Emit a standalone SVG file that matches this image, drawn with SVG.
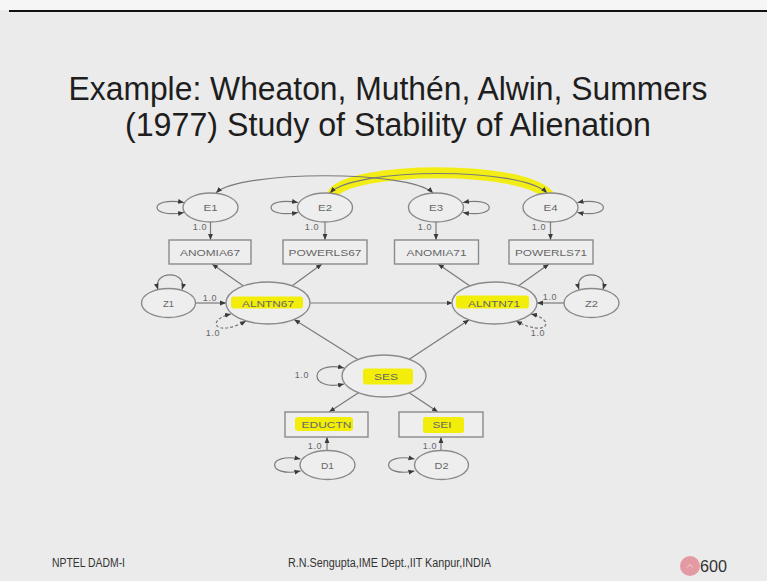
<svg xmlns="http://www.w3.org/2000/svg" width="767" height="581" viewBox="0 0 767 581">
<style>
.bg{fill:#ebebeb}
.nd{fill:#eeeeee;stroke:#8a8a8a;stroke-width:1.4}
.lbl{font-family:"Liberation Sans",Arial,sans-serif;font-size:9.5px;fill:#666;text-anchor:middle}
.num{font-family:"Liberation Sans",Arial,sans-serif;font-size:9px;fill:#666;text-anchor:middle;letter-spacing:0.6px}
.ln{fill:none;stroke:#7a7a7a;stroke-width:1.2}
.arr{marker-end:url(#ah)}
.both{marker-start:url(#ah);marker-end:url(#ah)}
.dash{stroke-dasharray:3 2}
.hl{fill:#f2ee0a}
.title{font-family:"Liberation Sans",Arial,sans-serif;font-size:33px;fill:#1e1e1e;text-anchor:middle}
.foot{font-family:"Liberation Sans",Arial,sans-serif;fill:#333}
</style>
<defs>
<marker id="ah" viewBox="0 0 10 10" refX="10" refY="5" markerWidth="6" markerHeight="6" markerUnits="userSpaceOnUse" orient="auto-start-reverse">
<path d="M0,1 L10,5 L0,9 z" fill="#3a3a3a"/>
</marker>
</defs>
<rect x="0" y="0" width="767" height="581" class="bg"/>
<rect x="0" y="0" width="767" height="10" fill="#f6f6f6"/>
<line x1="9" y1="11" x2="767" y2="11" stroke="#111" stroke-width="2"/>

<g id="title">
<text class="title" x="388" y="100" textLength="639" lengthAdjust="spacingAndGlyphs">Example: Wheaton, Muthén, Alwin, Summers</text>
<text class="title" x="388" y="136" textLength="526" lengthAdjust="spacingAndGlyphs">(1977) Study of Stability of Alienation</text>
</g>

<g id="connectors">
<path d="M332 195 C346 166 528 164 550 197" fill="none" stroke="#f2ee0a" stroke-width="11" stroke-opacity="0.95"/>
<path class="ln both" d="M216 193 C240 170 410 170 433 193"/>
<path class="ln both" d="M330 193 C355 167 522 167 547 193"/>
<path class="ln both" d="M184 202.5 C148 196 148 219 184 212.5"/>
<path class="ln both" d="M298 202.5 C262 196 262 219 298 212.5"/>
<path class="ln both" d="M463 202.5 C498 196 498 219 463 212.5"/>
<path class="ln both" d="M577.5 202.5 C612 196 612 219 577.5 212.5"/>
<line class="ln arr" x1="210.5" y1="222" x2="210.5" y2="240"/>
<line class="ln arr" x1="325" y1="222" x2="325" y2="240"/>
<line class="ln arr" x1="436" y1="222" x2="436" y2="240"/>
<line class="ln arr" x1="550.5" y1="222" x2="550.5" y2="240"/>
<line class="ln arr" x1="243.5" y1="286" x2="212" y2="264"/>
<line class="ln arr" x1="292.2" y1="285.8" x2="322" y2="264"/>
<line class="ln arr" x1="469.9" y1="286" x2="438" y2="264"/>
<line class="ln arr" x1="518.6" y1="285.8" x2="549" y2="264"/>
<line class="ln arr" x1="310" y1="303" x2="452.5" y2="303"/>
<line class="ln arr" x1="195.5" y1="303" x2="226" y2="303"/>
<line class="ln arr" x1="564" y1="303" x2="537" y2="303"/>
<path class="ln both" d="M158 289.5 C152 270 188 270 182 289.5"/>
<path class="ln both" d="M579 289.5 C573 270 609 270 603 289.5"/>
<path class="ln both dash" d="M231 314 C205 320 215 338 246 321"/>
<path class="ln both dash" d="M516 321 C547 338 557 320 531 314"/>
<line class="ln arr" x1="357.9" y1="359.6" x2="294.1" y2="319.4"/>
<line class="ln arr" x1="409.3" y1="359.3" x2="469.2" y2="319.7"/>
<path class="ln both" d="M344 368 C308 360 308 392 344 384"/>
<line class="ln arr" x1="358.5" y1="392.7" x2="329" y2="412"/>
<line class="ln arr" x1="409.2" y1="392.8" x2="438" y2="412"/>
<line class="ln arr" x1="327" y1="450.5" x2="327" y2="437"/>
<line class="ln arr" x1="441" y1="450.5" x2="441" y2="437"/>
<path class="ln both" d="M300.5 459 C266 452 266 478 300.5 471"/>
<path class="ln both" d="M414.5 459 C380 452 380 478 414.5 471"/>
<text class="num" x="200" y="230">1.0</text>
<text class="num" x="312" y="230">1.0</text>
<text class="num" x="425" y="230">1.0</text>
<text class="num" x="539" y="230">1.0</text>
<text class="num" x="210" y="301">1.0</text>
<text class="num" x="550" y="300">1.0</text>
<text class="num" x="213" y="336">1.0</text>
<text class="num" x="538" y="336">1.0</text>
<text class="num" x="302" y="378">1.0</text>
<text class="num" x="315" y="449">1.0</text>
<text class="num" x="430" y="449">1.0</text>
</g>

<g id="E1"><ellipse class="nd" cx="210.5" cy="207.5" rx="27.5" ry="14.5"/><text class="lbl" x="210.5" y="211" textLength="14" lengthAdjust="spacingAndGlyphs">E1</text></g>
<g id="E2"><ellipse class="nd" cx="325" cy="207.5" rx="27.5" ry="14.5"/><text class="lbl" x="325" y="211" textLength="14" lengthAdjust="spacingAndGlyphs">E2</text></g>
<g id="E3"><ellipse class="nd" cx="436" cy="207.5" rx="27.5" ry="14.5"/><text class="lbl" x="436" y="211" textLength="14" lengthAdjust="spacingAndGlyphs">E3</text></g>
<g id="E4"><ellipse class="nd" cx="550.5" cy="207.5" rx="27.5" ry="14.5"/><text class="lbl" x="550.5" y="211" textLength="14" lengthAdjust="spacingAndGlyphs">E4</text></g>

<g id="ANOMIA67"><rect class="nd" x="169" y="240" width="82" height="24"/><text class="lbl" x="210" y="255.5" textLength="60" lengthAdjust="spacingAndGlyphs">ANOMIA67</text></g>
<g id="POWERLS67"><rect class="nd" x="283" y="240" width="84" height="24"/><text class="lbl" x="325" y="255.5" textLength="73" lengthAdjust="spacingAndGlyphs">POWERLS67</text></g>
<g id="ANOMIA71"><rect class="nd" x="394.5" y="240" width="84" height="24"/><text class="lbl" x="436.5" y="255.5" textLength="60" lengthAdjust="spacingAndGlyphs">ANOMIA71</text></g>
<g id="POWERLS71"><rect class="nd" x="509" y="240" width="84" height="24"/><text class="lbl" x="551" y="255.5" textLength="72" lengthAdjust="spacingAndGlyphs">POWERLS71</text></g>

<g id="Z1"><ellipse class="nd" cx="168.5" cy="303" rx="27" ry="14.5"/><text class="lbl" x="168.5" y="306.5" textLength="11" lengthAdjust="spacingAndGlyphs">Z1</text></g>
<g id="ALNTN67"><ellipse class="nd" cx="268" cy="303" rx="42" ry="21"/><rect class="hl" x="231" y="296.5" width="72" height="12" rx="3"/><text class="lbl" x="268" y="306.5" textLength="52" lengthAdjust="spacingAndGlyphs">ALNTN67</text></g>
<g id="ALNTN71"><ellipse class="nd" cx="494.5" cy="303" rx="42.5" ry="21"/><rect class="hl" x="456" y="295.5" width="73" height="13" rx="3"/><text class="lbl" x="494" y="306.5" textLength="52" lengthAdjust="spacingAndGlyphs">ALNTN71</text></g>
<g id="Z2"><ellipse class="nd" cx="591.5" cy="303" rx="27.5" ry="14.5"/><text class="lbl" x="591.5" y="306.5" textLength="13" lengthAdjust="spacingAndGlyphs">Z2</text></g>

<g id="SES"><ellipse class="nd" cx="384" cy="376" rx="42" ry="21"/><rect class="hl" x="363" y="368.5" width="50" height="16" rx="3"/><text class="lbl" x="386" y="379.5" textLength="24" lengthAdjust="spacingAndGlyphs">SES</text></g>

<g id="EDUCTN"><rect class="nd" x="285" y="412" width="83" height="25"/><rect class="hl" x="295" y="417" width="58" height="14" rx="3"/><text class="lbl" x="326.5" y="428" textLength="50" lengthAdjust="spacingAndGlyphs">EDUCTN</text></g>
<g id="SEI"><rect class="nd" x="399" y="412" width="84" height="25"/><rect class="hl" x="423" y="417" width="41" height="16" rx="3"/><text class="lbl" x="442" y="428" textLength="19" lengthAdjust="spacingAndGlyphs">SEI</text></g>

<g id="D1"><ellipse class="nd" cx="327.5" cy="465" rx="27.5" ry="14.5"/><text class="lbl" x="327.5" y="468.5" textLength="13" lengthAdjust="spacingAndGlyphs">D1</text></g>
<g id="D2"><ellipse class="nd" cx="441.5" cy="465" rx="27" ry="14.5"/><text class="lbl" x="441.5" y="468.5" textLength="14" lengthAdjust="spacingAndGlyphs">D2</text></g>

<g id="footer">
<text class="foot" x="52" y="567" font-size="12" textLength="73" lengthAdjust="spacingAndGlyphs">NPTEL DADM-I</text>
<text class="foot" x="288" y="567" font-size="12" textLength="203" lengthAdjust="spacingAndGlyphs">R.N.Sengupta,IME Dept.,IIT Kanpur,INDIA</text>
<circle cx="690" cy="566" r="10" fill="#e27f8b" fill-opacity="0.75"/>
<path d="M687 567.5 L690 564.5 L693 567.5" fill="none" stroke="#f6d0d5" stroke-width="1"/>
<text class="foot" x="700" y="572" font-size="16" textLength="27" lengthAdjust="spacingAndGlyphs">600</text>
</g>
</svg>
